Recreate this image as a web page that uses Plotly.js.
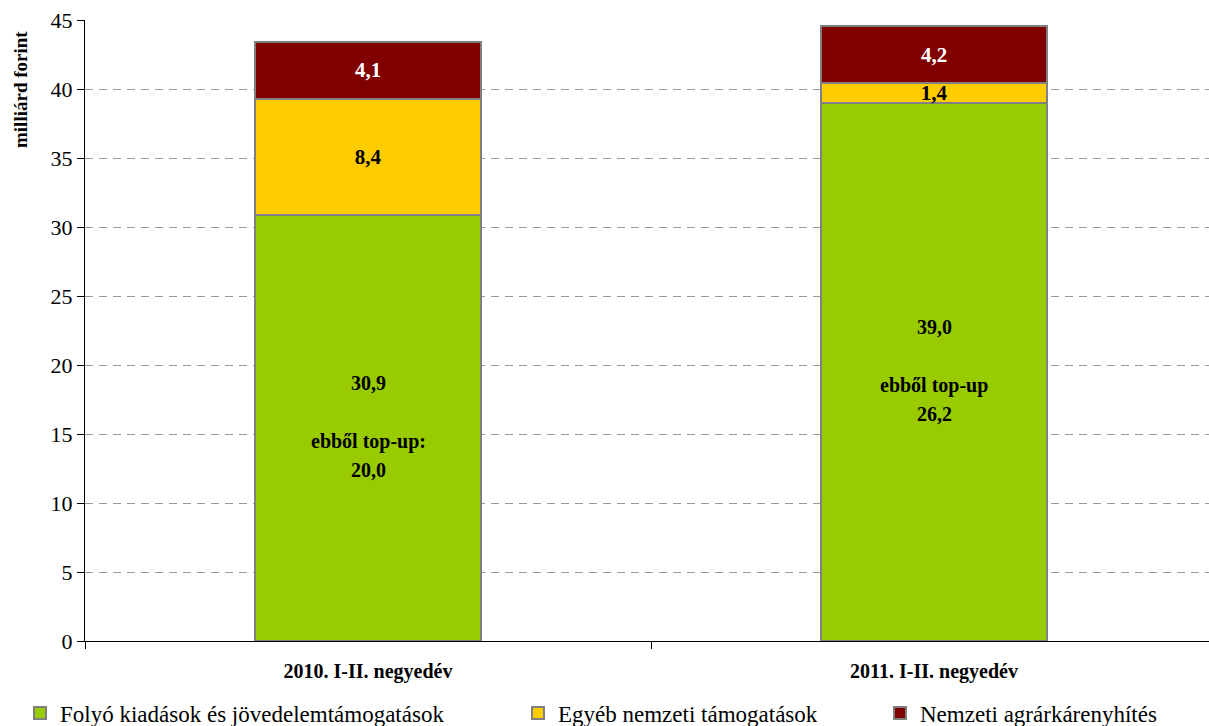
<!DOCTYPE html>
<html>
<head>
<meta charset="utf-8">
<script src="https://cdn.plot.ly/plotly-3.0.1.min.js"></script>
<style>html,body{margin:0;padding:0;background:#fff;}</style>
</head>
<body>
<div id="chart" style="width:1209px;height:726px;"></div>
<script>
const categories = ["2010. I-II. negyedév", "2011. I-II. negyedév"];
const folyo = [30.9, 39.0];
const egyeb = [8.4, 1.4];
const karenyhites = [4.1, 4.2];
const topupLabels = ["ebből top-up:", "ebből top-up"];
const topupValues = [20.0, 26.2];
const seriesNames = ["Folyó kiadások és jövedelemtámogatások", "Egyéb nemzeti támogatások", "Nemzeti agrárkárenyhítés"];
const yTitle = "milliárd forint";

const FONT = "'Liberation Serif', 'Times New Roman', serif";
const fmt = v => v.toFixed(1).replace(".", ",");

const lineStyle = {color: "#808080", width: 2};
const traces = [
  {type: "bar", x: categories, y: folyo, name: seriesNames[0], width: 0.4,
   marker: {color: "#99CC00", line: lineStyle}, legend: "legend",
   hoverinfo: "skip"},
  {type: "bar", x: categories, y: egyeb, name: seriesNames[1], width: 0.4,
   marker: {color: "#FFCC00", line: lineStyle}, legend: "legend2",
   text: egyeb.map(fmt), textposition: "inside", insidetextanchor: "middle",
   constraintext: "none", cliponaxis: false,
   textfont: {family: FONT, size: 21, color: "#000", weight: "bold"}, hoverinfo: "skip"},
  {type: "bar", x: categories, y: karenyhites, name: seriesNames[2], width: 0.4,
   marker: {color: "#800000", line: lineStyle}, legend: "legend3",
   text: karenyhites.map(fmt), textposition: "inside", insidetextanchor: "middle",
   constraintext: "none",
   textfont: {family: FONT, size: 21, color: "#fff", weight: "bold"}, hoverinfo: "skip"}
];

const annFont = {family: FONT, size: 20, color: "#000", weight: "bold"};
const annotations = [];
categories.forEach((c, i) => {
  annotations.push({x: c, y: folyo[i] / 2, xref: "x", yref: "y", text: fmt(folyo[i]),
    showarrow: false, yshift: 45, font: annFont});
  annotations.push({x: c, y: folyo[i] / 2, xref: "x", yref: "y", text: topupLabels[i],
    showarrow: false, yshift: -14, font: annFont});
  annotations.push({x: c, y: folyo[i] / 2, xref: "x", yref: "y", text: fmt(topupValues[i]),
    showarrow: false, yshift: -42, font: annFont});
});
annotations.push({xref: "paper", yref: "paper", x: -65 / 1124, y: 1 - 70 / 621,
  text: yTitle, textangle: -90, showarrow: false, xanchor: "center", yanchor: "middle",
  font: {family: FONT, size: 19, color: "#000", weight: "bold"}});

const legendBase = {orientation: "h", yref: "container", y: 13 / 726, yanchor: "middle",
  xref: "container", xanchor: "left", font: {family: FONT, size: 23, color: "#000"},
  bgcolor: "rgba(0,0,0,0)", itemclick: false, itemdoubleclick: false};

const layout = {
  width: 1209, height: 726,
  margin: {l: 85, r: 0, t: 20, b: 85, autoexpand: false},
  paper_bgcolor: "#fff", plot_bgcolor: "#fff",
  font: {family: FONT, color: "#000"},
  barmode: "stack",
  showlegend: true,
  legend: Object.assign({}, legendBase, {x: 20 / 1209}),
  legend2: Object.assign({}, legendBase, {x: 518 / 1209}),
  legend3: Object.assign({}, legendBase, {x: 880 / 1209}),
  xaxis: {type: "category", range: [-0.5, -0.5 + 1124 / 566], tickson: "boundaries",
    ticks: "outside", ticklen: 7, tickcolor: "#000", showline: true, linecolor: "#000", linewidth: 1,
    showgrid: false, ticklabelstandoff: 12, tickangle: 0, automargin: false,
    tickfont: {family: FONT, size: 20, color: "#000", weight: "bold"}},
  yaxis: {range: [0, 45], dtick: 5, ticks: "outside", ticklen: 7, tickcolor: "#000",
    showline: true, linecolor: "#000", linewidth: 1, zeroline: false, automargin: false,
    showgrid: true, gridcolor: "#999", gridwidth: 1, griddash: "8px,6px",
    tickfont: {family: FONT, size: 22, color: "#000"}},
  annotations: annotations
};

Plotly.newPlot("chart", traces, layout, {staticPlot: true, displayModeBar: false});
</script>
</body>
</html>
